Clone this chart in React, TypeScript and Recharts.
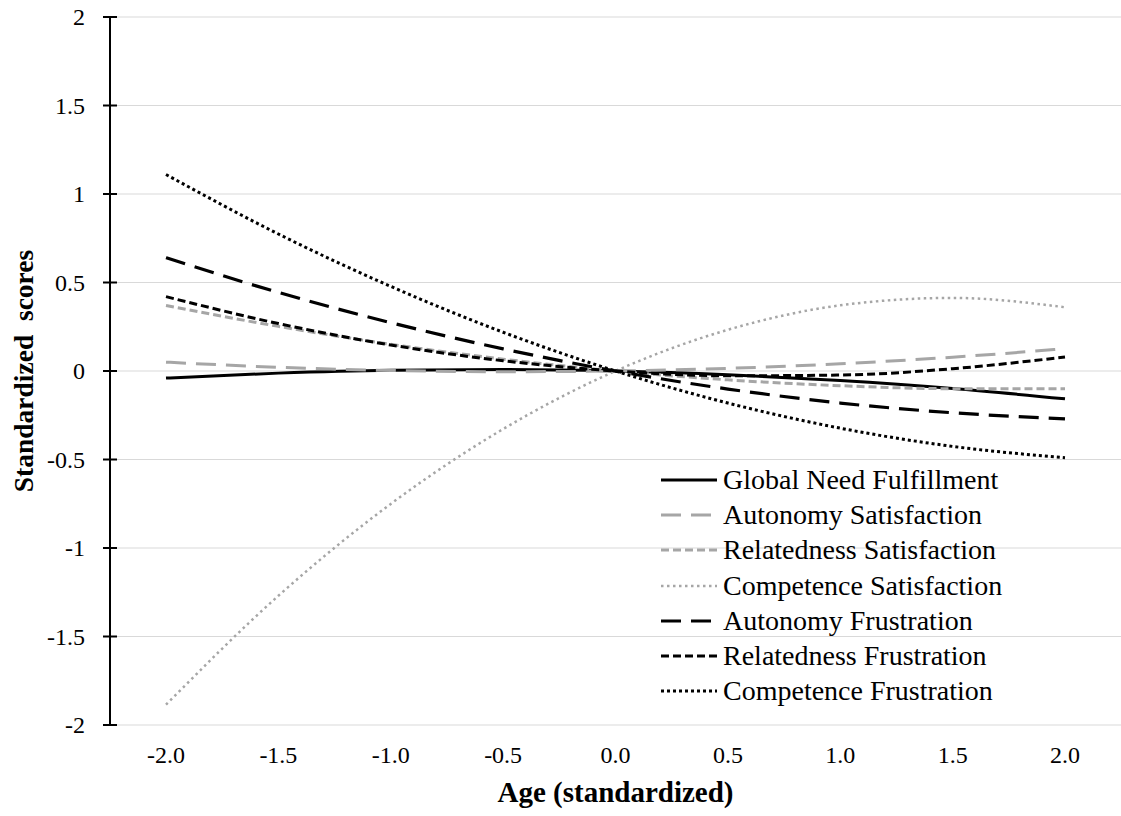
import { CartesianGrid, Label, Legend, Line, LineChart, XAxis, YAxis } from "recharts";

const ages = ["-2.0", "-1.5", "-1.0", "-0.5", "0.0", "0.5", "1.0", "1.5", "2.0"];
const yTicks = [-2, -1.5, -1, -0.5, 0, 0.5, 1, 1.5, 2];

const globalNeed = [-0.04, -0.012, 0.004, 0.008, 0, -0.021, -0.054, -0.099, -0.157];
const autonomySat = [0.05, 0.021, 0.003, -0.004, 0, 0.015, 0.041, 0.078, 0.126];
const relatednessSat = [0.37, 0.252, 0.151, 0.067, 0, -0.05, -0.083, -0.1, -0.1];
const competenceSat = [-1.885, -1.27, -0.751, -0.328, 0, 0.233, 0.371, 0.413, 0.36];
const autonomyFru = [0.64, 0.444, 0.273, 0.125, 0, -0.102, -0.181, -0.236, -0.27];
const relatednessFru = [0.42, 0.268, 0.147, 0.058, 0, -0.027, -0.023, 0.013, 0.079];
const competenceFru = [1.11, 0.774, 0.478, 0.219, 0, -0.181, -0.323, -0.426, -0.49];

const font = "'Liberation Serif', 'Times New Roman', serif";
const gray = "#a6a6a6";

const series = [
  { key: "gnf", name: "Global Need Fulfillment", values: globalNeed, color: "#000", dash: undefined, width: 3 },
  { key: "as", name: "Autonomy Satisfaction", values: autonomySat, color: gray, dash: "20 10", width: 3 },
  { key: "rs", name: "Relatedness Satisfaction", values: relatednessSat, color: gray, dash: "8 4", width: 3 },
  { key: "cs", name: "Competence Satisfaction", values: competenceSat, color: gray, dash: "2.5 3.5", width: 2.5 },
  { key: "af", name: "Autonomy Frustration", values: autonomyFru, color: "#000", dash: "20 10", width: 3.2 },
  { key: "rf", name: "Relatedness Frustration", values: relatednessFru, color: "#000", dash: "8 4", width: 3 },
  { key: "cf", name: "Competence Frustration", values: competenceFru, color: "#000", dash: "3 3", width: 3 },
];

const data = ages.map((age, i) => {
  const row: Record<string, string | number> = { age };
  series.forEach((s) => {
    row[s.key] = s.values[i];
  });
  return row;
});

const YTick = (props: any) => {
  const { x, y, payload } = props;
  return (
    <g>
      <line x1={x - 7} x2={x + 7} y1={y} y2={y} stroke="#000" strokeWidth={2} />
      <text x={x - 25} y={y} textAnchor="end" dominantBaseline="central" fontSize={24} fontFamily={font} fill="#000">
        {String(payload.value)}
      </text>
    </g>
  );
};

const XTick = (props: any) => {
  const { x, y, payload } = props;
  return (
    <text x={x} y={y + 38} textAnchor="middle" fontSize={24} fontFamily={font} fill="#000">
      {payload.value}
    </text>
  );
};

const renderLegend = () => (
  <div style={{ fontFamily: font, fontSize: 28, color: "#000" }}>
    {series.map((s) => (
      <div key={s.key} style={{ display: "flex", alignItems: "center", height: 35.3, whiteSpace: "nowrap" }}>
        <svg width={56} height={10} style={{ marginRight: 6 }}>
          <line x1={0} x2={56} y1={5} y2={5} stroke={s.color} strokeWidth={s.width} strokeDasharray={s.dash} />
        </svg>
        <span>{s.name}</span>
      </div>
    ))}
  </div>
);

export default function App() {
  return (
    <div style={{ position: "absolute", left: 0, top: 0, background: "#fff" }}>
      <LineChart width={1121} height={816} data={data} margin={{ top: 17, right: 0, bottom: 0, left: 0 }}>
        <CartesianGrid vertical={false} stroke="#d9d9d9" strokeWidth={1.2} />
        <XAxis
          dataKey="age"
          height={91}
          axisLine={false}
          tickLine={false}
          tickSize={0}
          tickMargin={0}
          interval={0}
          padding={{ left: 56, right: 56 }}
          tick={<XTick />}
        >
          <Label
            value="Age (standardized)"
            position="insideBottom"
            offset={14}
            style={{ fontFamily: font, fontSize: 29, fontWeight: "bold", fill: "#000" }}
          />
        </XAxis>
        <YAxis
          width={110}
          domain={[-2, 2]}
          ticks={yTicks}
          interval={0}
          axisLine={{ stroke: "#000", strokeWidth: 2 }}
          tickLine={false}
          tickSize={0}
          tickMargin={0}
          tick={<YTick />}
        >
          <Label
            content={() => (
              <text
                x={23}
                y={371}
                transform="rotate(-90, 23, 371)"
                textAnchor="middle"
                dominantBaseline="central"
                fontFamily={font}
                fontSize={27.5}
                fontWeight="bold"
                fill="#000"
              >
                {"Standardized\u00a0 scores"}
              </text>
            )}
          />
        </YAxis>
        <Legend
          layout="vertical"
          align="center"
          verticalAlign="middle"
          content={renderLegend}
          wrapperStyle={{ left: 661, top: 462, width: 420 }}
        />
        {series.map((s) => (
          <Line
            key={s.key}
            type="monotone"
            dataKey={s.key}
            name={s.name}
            stroke={s.color}
            strokeWidth={s.width}
            strokeDasharray={s.dash}
            dot={false}
            activeDot={false}
            isAnimationActive={false}
          />
        ))}
      </LineChart>
    </div>
  );
}
